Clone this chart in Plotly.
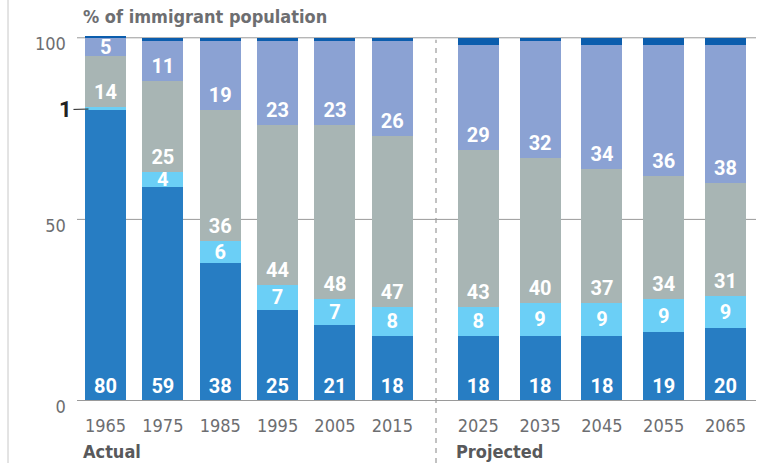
import plotly.graph_objects as go

W, H = 758, 463

years_actual = ["1965", "1975", "1985", "1995", "2005", "2015"]
years_projected = ["2025", "2035", "2045", "2055", "2065"]

white = [80, 59, 38, 25, 21, 18, 18, 18, 18, 19, 20]
black = [1, 4, 6, 7, 7, 8, 8, 9, 9, 9, 9]
hispanic = [14, 25, 36, 44, 48, 47, 43, 40, 37, 34, 31]
asian = [5, 11, 19, 23, 23, 26, 29, 32, 34, 36, 38]
other = [0.3, 1, 1, 1, 1, 1, 2, 1, 2, 2, 2]

y_ticks = [0, 50, 100]

# name, values, colour, show labels, label anchor
series = [
    ("White", white, "#277dc3", True, "start"),
    ("Black", black, "#6bcff6", True, "middle"),
    ("Hispanic", hispanic, "#a8b5b4", True, "start"),
    ("Asian", asian, "#8ba2d3", True, "start"),
    ("Other", other, "#0b5dad", False, "start"),
]

NARROW = "Liberation Sans Narrow, DejaVu Sans Condensed, Arial Narrow, sans-serif"
LABEL_FONT = dict(family="Roboto, Arial, sans-serif", size=20, color="white", weight="bold")

fig = go.Figure()
n_a = len(years_actual)
groups = [
    (years_actual, slice(0, n_a), "x", 0.715),
    (years_projected, slice(n_a, None), "x2", 0.663),
]
extra_labels = []
base = [0.0] * len(white)
for name, vals, color, labelled, anchor in series:
    for cats, sl, xa, w in groups:
        v = vals[sl]
        b = base[sl]
        txt = []
        for i, val in enumerate(v):
            if not labelled or val < 3:
                txt.append("")
            elif anchor == "start" and val < 8:
                # short segment: centre the label instead of base-anchoring it
                txt.append("")
                extra_labels.append(dict(text=str(val), xref=xa, yref="y", x=i, y=b[i] + val / 2,
                                         showarrow=False, font=LABEL_FONT))
            else:
                txt.append(str(val))
        fig.add_trace(go.Bar(
            x=cats, y=v, name=name, xaxis=xa, yaxis="y",
            marker=dict(color=color, line=dict(width=0)),
            width=w,
            text=txt, textposition="inside", insidetextanchor=anchor,
            textangle=0, constraintext="none",
            textfont=LABEL_FONT,
            showlegend=False, hoverinfo="skip",
        ))
    base = [bb + vv for bb, vv in zip(base, vals)]

# pixel layout: value 0 at y=401, value 100 at y=38
Y_MAX = 106
bot_px = 401
scale = (401 - 38) / 100
top_px = bot_px - Y_MAX * scale
ph = bot_px - top_px
px = lambda p: p / W
py = lambda p: (bot_px - p) / ph

shapes = []
for t in y_ticks:
    shapes.append(dict(type="line", xref="paper", yref="y", x0=px(77), x1=px(756), y0=t, y1=t,
                       line=dict(color="#9a9a9a", width=2 if t == 0 else 1), layer="above" if t == 0 else "below"))
# divider between actual and projected
shapes.append(dict(type="line", xref="paper", yref="paper", x0=px(436), x1=px(436), y0=py(463), y1=py(40),
                   line=dict(color="#9a9a9a", width=1.2, dash="5px,5px")))
# left border line
shapes.append(dict(type="line", xref="paper", yref="paper", x0=px(8), x1=px(8), y0=py(463), y1=py(0),
                   line=dict(color="#c8c8c8", width=1)))

annotations = [
    dict(text="% of immigrant population", xref="paper", yref="paper", x=px(81), y=py(17),
         xanchor="left", yanchor="middle", showarrow=False,
         font=dict(family=NARROW, size=18, color="#6d6e71", weight="bold")),
    dict(text="Actual", xref="paper", yref="paper", x=px(81), y=py(451),
         xanchor="left", yanchor="middle", showarrow=False,
         font=dict(family=NARROW, size=18, color="#58595b", weight="bold")),
    dict(text="Projected", xref="paper", yref="paper", x=px(454), y=py(451),
         xanchor="left", yanchor="middle", showarrow=False,
         font=dict(family=NARROW, size=18, color="#58595b", weight="bold")),
    dict(text=str(black[0]), xref="x", yref="y", x=0, y=white[0] + black[0] / 2,
         showarrow=True, arrowhead=0, arrowwidth=1, arrowcolor="#222", ax=-40, ay=1,
         standoff=17, xanchor="center",
         font=dict(family="Roboto, Arial, sans-serif", size=22, color="#222", weight="bold")),
] + extra_labels

axis_font = dict(family=NARROW, size=18, color="#6d6e71")
fig.update_layout(
    width=W, height=H,
    margin=dict(l=0, r=0, t=top_px, b=H - bot_px, autoexpand=False),
    paper_bgcolor="white", plot_bgcolor="rgba(0,0,0,0)",
    barmode="stack",
    showlegend=False,
    xaxis=dict(domain=[px(76.8), px(421)], type="category", range=[-0.5, len(years_actual) - 0.5],
               showgrid=False, zeroline=False, automargin=False,
               showline=False, ticks="", tickfont=axis_font, ticklabelstandoff=12, anchor="y"),
    xaxis2=dict(domain=[px(447.4), px(756.4)], type="category", range=[-0.5, len(years_projected) - 0.5],
                showgrid=False, zeroline=False, automargin=False,
                showline=False, ticks="", tickfont=axis_font, ticklabelstandoff=12, anchor="y"),
    yaxis=dict(range=[0, Y_MAX], tickvals=y_ticks, showgrid=False, zeroline=False, showline=False,
               automargin=False, ticks="", tickfont=axis_font, ticklabelstandoff=10, ticklabelshift=6,
               anchor="x"),
    shapes=shapes,
    annotations=annotations,
)

fig.write_html("out.html", config={"displayModeBar": False},
               post_script="document.body.style.margin='0px';")
